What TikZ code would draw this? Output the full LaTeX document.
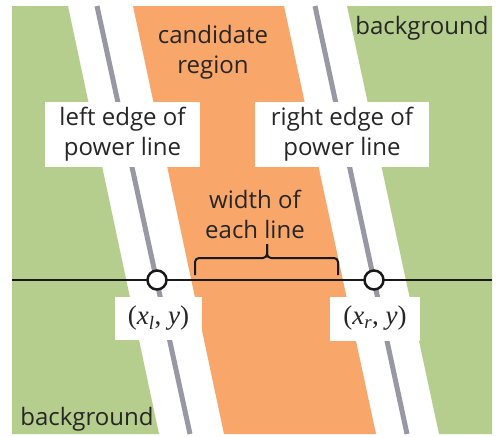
\documentclass[tikz,border=0pt]{standalone}
\usepackage{fontspec}
\setmainfont{Open Sans}
\newfontfamily\pointfont{Liberation Serif}
\usepackage{tikz}
\usetikzlibrary{positioning, calc}
\definecolor{field}{RGB}{181, 206, 142}
\definecolor{cand}{RGB}{249, 166, 106}
\definecolor{rail}{RGB}{152, 152, 164}

\begin{document}
\begin{tikzpicture}[
        x=1pt, y=-1pt,
        font=\fontsize{24}{30}\selectfont,
        % Styles
        lbl/.style={align=center, inner sep=0pt, text=black!85},
        tagbox/.style={lbl, fill=white},
        coordtag/.style={tagbox, font=\pointfont\fontsize{27}{30}\selectfont},
        wire/.style={line width=2.5pt, draw=black!90},
        railline/.style={line width=5pt, draw=rail},
        joint/.style={circle, draw=black!90, line width=2.5pt, fill=white, minimum size=19pt, inner sep=0pt},
        bracket/.style={line width=2pt, draw=black!90, rounded corners=4pt}
    ]

    % ==============================
    % 1. REGIONS
    % ==============================
    \fill[white] (0,0) rectangle (497,436);
    \fill[field] (12,6) -- (68,6) -- (159,434) -- (12,434) -- cycle;
    \fill[field] (347,6) -- (492,6) -- (492,434) -- (439,434) -- cycle;
    \fill[cand] (133,6) -- (284,6) -- (376,434) -- (224,434) -- cycle;

    % ==============================
    % 2. POWER LINE EDGES
    % ==============================
    \coordinate (ltop) at (97,6);
    \coordinate (lbot) at (190,434);
    \coordinate (rtop) at (315,6);
    \coordinate (rbot) at (407,434);
    \draw[railline] (ltop) -- (lbot);
    \draw[railline] (rtop) -- (rbot);

    % ==============================
    % 3. LABELS
    % ==============================
    \node[tagbox, minimum width=155pt, minimum height=65pt] (left_edge) at (122.5,134.5) {left edge of\\power line};
    \node[tagbox, minimum width=174pt, minimum height=65pt] (right_edge) at (342,134.5) {right edge of\\power line};

    \node[lbl] (cand_lbl) at (213,52) {candidate\\region};
    \node[lbl] (width_lbl) at (255,214) {width of\\each line};
    \node[lbl] (bg_top) at (422,28) {background};
    \node[lbl] (bg_bot) at (87,419) {background};

    % ==============================
    % 4. SCAN LINE
    % ==============================
    \node[coordtag, minimum width=87pt, minimum height=43pt] (xl_lbl) at (158.5,318.5) {(\textit{x}\textsubscript{\textit{l}}, \textit{y})};
    \node[coordtag, minimum width=90pt, minimum height=44pt] (xr_lbl) at (375,318.5) {(\textit{x}\textsubscript{\textit{r}}, \textit{y})};

    \coordinate (scan_w) at (12,280);
    \coordinate (scan_e) at (492,280);
    \draw[wire] (scan_w) -- (scan_e);

    \node[joint] (xl) at (157,280) {};
    \node[joint] (xr) at (374,280) {};

    % brace over the candidate width
    \coordinate (br_l) at (195,275);
    \coordinate (br_r) at (338,275);
    \coordinate (br_t) at (267,244);
    \draw[bracket] (br_l) |- (br_t |- 0,258) -- (br_t);
    \draw[bracket] (br_r) |- (br_t |- 0,258) -- (br_t);

\end{tikzpicture}
\end{document}
